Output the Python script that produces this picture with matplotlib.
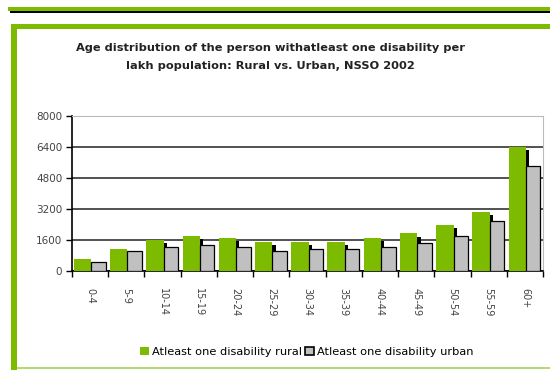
import matplotlib.pyplot as plt
import matplotlib.patheffects as pe
from matplotlib.patches import Rectangle, Patch
import numpy as np

plt.rcParams['font.family'] = ['DejaVu Sans']

age_groups = ['0-4', '5-9', '10-14', '15-19', '20-24', '25-29', '30-34',
              '35-39', '40-44', '45-49', '50-54', '55-59', '60+']
rural = [600, 1160, 1620, 1830, 1710, 1490, 1490, 1490, 1710, 1950, 2390, 3070, 6400]
urban = [460, 1010, 1250, 1350, 1250, 1010, 1110, 1110, 1230, 1450, 1790, 2560, 5420]
y_ticks = [0, 1600, 3200, 4800, 6400, 8000]

GREEN = '#7dbb00'
GREY = '#c0c0c0'

W, H = 550, 370
fig = plt.figure(figsize=(W / 100, H / 100), dpi=100)


def px_rect(x0, y0, x1, y1, color):
    # rectangle given in pixel coords (origin top-left)
    fig.add_artist(Rectangle((x0 / W, 1 - y1 / H), (x1 - x0) / W, (y1 - y0) / H,
                             transform=fig.transFigure, color=color, lw=0))


# page frame
px_rect(8, 7, 550, 11, GREEN)
px_rect(10, 11, 550, 12.5, 'black')
px_rect(11, 24, 550, 28.5, GREEN)
px_rect(11, 24, 17, 370, GREEN)
px_rect(17, 367, 550, 369, '#b8d870')

fig.text(270 / W, 1 - 57 / H,
         'Age distribution of the person withatleast one disability per\n'
         'lakh population: Rural vs. Urban, NSSO 2002',
         ha='center', va='center', fontsize=8.2, fontweight='bold',
         linespacing=2.05, color='#222222')

ax = fig.add_axes([72 / W, 1 - 271 / H, (543 - 72) / W, (271 - 116) / H])
x = np.arange(len(age_groups))

ax.bar(x - 0.45, rural, width=0.48, align='edge', color=GREEN, lw=0, zorder=3,
       path_effects=[pe.SimplePatchShadow(offset=(2.4, -2.4), shadow_rgbFace='black', alpha=1),
                     pe.Normal()])
ax.bar(x + 0.03, urban, width=0.40, align='edge', color=GREY, edgecolor='black',
       lw=0.9, zorder=4)

ax.set_xlim(-0.5, len(age_groups) - 0.5)
ax.set_ylim(0, 8000)
ax.set_yticks(y_ticks)
ax.set_yticklabels([str(v) for v in y_ticks], fontsize=7.5, color='#444444')
ax.yaxis.grid(True, color='#222222', lw=1.1, zorder=0)
ax.set_axisbelow(True)

ax.set_xticks(x)
ax.set_xticklabels(age_groups, rotation=-90, fontsize=7, color='#444444', va='top')
ax.tick_params(axis='x', length=0, pad=12)
ax.set_xticks(np.arange(-0.5, len(age_groups)), minor=True)
ax.tick_params(axis='x', which='minor', length=4, width=1, color='black')
ax.tick_params(axis='y', length=4, width=1, color='black', pad=3)

for side in ['top', 'right']:
    ax.spines[side].set_color('#bbbbbb')
    ax.spines[side].set_linewidth(0.8)
for side in ['left', 'bottom']:
    ax.spines[side].set_color('black')
    ax.spines[side].set_linewidth(1.2)

handles = [Patch(facecolor=GREEN, lw=0, label='Atleast one disability rural'),
           Patch(facecolor=GREY, edgecolor='black', lw=1.2, label='Atleast one disability urban')]
fig.legend(handles=handles, loc='center', bbox_to_anchor=(307 / W, 1 - 352 / H), ncol=2,
           frameon=False, fontsize=8.2, handlelength=0.75, handleheight=0.75,
           handletextpad=0.3, columnspacing=0.25, borderpad=0)

fig.savefig('out.png', dpi=100)
